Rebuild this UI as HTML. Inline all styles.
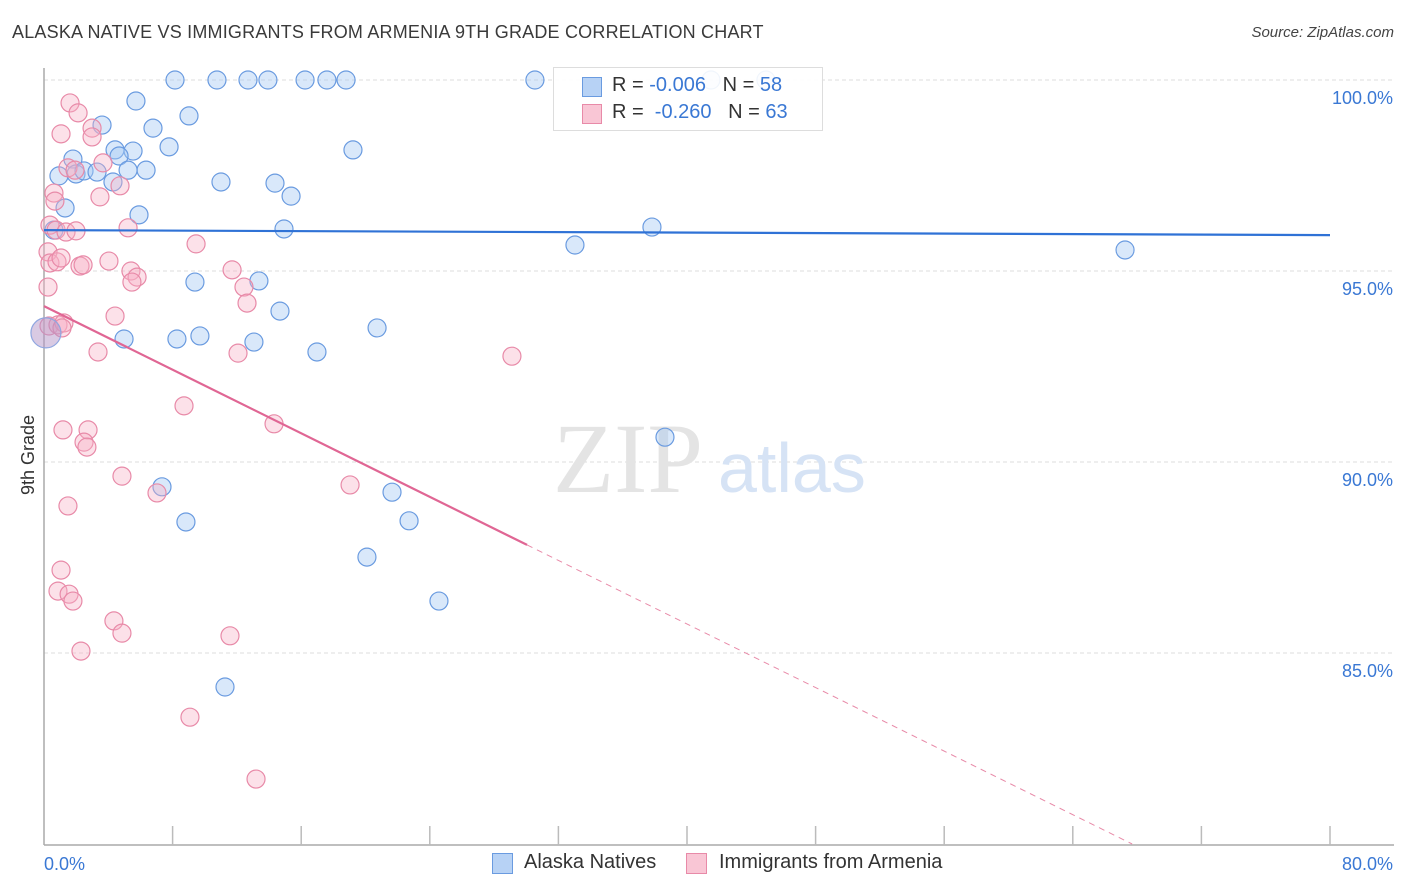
<!DOCTYPE html>
<html><head><meta charset="utf-8"><style>
body{margin:0;background:#fff;font-family:"Liberation Sans",sans-serif;}
#wrap{position:relative;width:1406px;height:892px;overflow:hidden;}
.t{position:absolute;white-space:nowrap;}
</style></head><body>
<div id="wrap">
<div class="t" style="left:12px;top:22px;font-size:18px;color:#3a3a3a;letter-spacing:0.2px;">ALASKA NATIVE VS IMMIGRANTS FROM ARMENIA 9TH GRADE CORRELATION CHART</div>
<div class="t" style="right:12px;top:24px;font-size:15px;color:#444;font-style:italic;">Source: ZipAtlas.com</div>
<svg id="svg" width="1406" height="892" style="position:absolute;left:0;top:0;">
<g id="grid"></g>
<text x="553" y="492" font-family="Liberation Serif,serif" font-size="100" fill="#e4e4e4">ZIP</text>
<text x="718" y="492" font-family="Liberation Sans,sans-serif" font-size="70" fill="#d6e3f5">atlas</text>
<g id="pts"></g>
<g id="lines"></g>
<text x="34" y="455" transform="rotate(-90 34 455)" text-anchor="middle" font-size="18" fill="#333">9th Grade</text>
</svg>
<div style="position:absolute;left:553px;top:67px;width:268px;height:62px;border:1px solid #ddd;background:rgba(255,255,255,0.9);">
<div style="position:absolute;left:28px;top:9px;width:18px;height:18px;background:#b7d2f5;border:1px solid #6a9be0;"></div>
<div class="t" style="left:58px;top:6px;font-size:20px;color:#333;">R = <span style="color:#3a78d4">-0.006</span>&nbsp;&nbsp;&nbsp;N = <span style="color:#3a78d4">58</span></div>
<div style="position:absolute;left:28px;top:36px;width:18px;height:18px;background:#f9c6d5;border:1px solid #e88aa8;"></div>
<div class="t" style="left:58px;top:33px;font-size:20px;color:#333;">R = &nbsp;<span style="color:#3a78d4">-0.260</span>&nbsp;&nbsp;&nbsp;N = <span style="color:#3a78d4">63</span></div>
</div>
<div style="position:absolute;left:492px;top:853px;">
<div style="position:absolute;left:0;top:0;width:19px;height:19px;background:#b7d2f5;border:1px solid #6a9be0;"></div>
<div class="t" style="left:32px;top:-2px;font-size:20px;color:#333;">Alaska Natives</div></div>
<div style="position:absolute;left:686px;top:853px;">
<div style="position:absolute;left:0;top:0;width:19px;height:19px;background:#f9c6d5;border:1px solid #e88aa8;"></div>
<div class="t" style="left:33px;top:-2px;font-size:20px;color:#333;">Immigrants from Armenia</div></div>
</div>
<script>
const yTicks=[100,95,90,85];
const yTickLabels=["100.0%","95.0%","90.0%","85.0%"];
const xTickLabels=["0.0%","80.0%"];
const blueX=[8.15,10.76,12.69,13.93,16.24,17.6,18.79,30.54,41.49,44.91,5.72,9.02,3.61,6.78,7.78,19.22,4.42,5.54,4.67,1.80,0.93,1.99,2.49,3.30,4.29,5.23,6.35,11.01,14.37,15.37,1.31,5.91,0.62,14.93,33.03,37.82,67.25,9.39,13.37,14.68,20.72,4.98,8.27,9.70,13.06,16.98,38.63,7.34,21.65,8.83,22.71,20.09,24.57,11.26];
const blueY=[100,100,100,100,100,100,100,100,100,100,99.45,99.06,98.82,98.74,98.25,98.17,98.17,98.14,98.01,97.93,97.49,97.54,97.62,97.59,97.33,97.64,97.64,97.33,97.30,96.96,96.65,96.47,96.07,96.10,95.68,96.15,95.55,94.71,94.74,93.95,93.51,93.22,93.22,93.30,93.14,92.88,90.65,89.35,89.21,88.43,88.46,87.51,86.36,84.11];
const pinkX=[1.62,2.12,1.06,2.99,2.99,3.67,1.49,1.93,4.73,0.62,0.68,3.48,0.37,0.75,1.37,1.99,5.23,9.46,0.25,0.37,0.81,1.06,2.24,2.43,4.04,5.41,5.79,5.47,11.70,12.44,12.63,0.25,4.42,0.31,0.87,1.24,1.12,3.36,12.07,29.11,8.71,14.31,1.18,2.74,2.49,2.67,4.85,7.03,19.04,1.49,1.06,0.87,1.56,1.80,4.35,4.85,11.57,2.30,9.08,13.19];
const pinkY=[99.40,99.14,98.59,98.74,98.51,97.83,97.70,97.64,97.23,97.04,96.83,96.94,96.20,96.07,96.02,96.05,96.13,95.71,95.50,95.21,95.24,95.34,95.13,95.16,95.26,95.00,94.84,94.71,95.03,94.58,94.16,94.58,93.82,93.56,93.59,93.64,93.51,92.88,92.85,92.77,91.47,91.0,90.84,90.84,90.52,90.39,89.63,89.19,89.40,88.85,87.17,86.62,86.54,86.36,85.84,85.52,85.45,85.05,83.32,81.70];
const bigX=[0.12], bigY=[93.38];
const blueTrend=[96.07,95.94];
const pinkTrend=[94.08,-0.208];
const X=v=>44+v*16.075, Y=v=>80+(100-v)*38.2;
const NS="http://www.w3.org/2000/svg";
function mk(tag,attrs,parent){const e=document.createElementNS(NS,tag);for(const k in attrs)e.setAttribute(k,attrs[k]);parent.appendChild(e);return e;}
const grid=document.getElementById('grid'),pts=document.getElementById('pts'),lines=document.getElementById('lines');
yTicks.forEach((t,i)=>{
 const l=mk('line',{x1:44,x2:1394,y1:Y(t),y2:Y(t),stroke:'#ddd','stroke-dasharray':'4,3'},grid);
 
 
 const tx=mk('text',{x:1393,y:Y(t)+24,'text-anchor':'end','font-size':18,fill:'#3a78d4'},grid);
 tx.textContent=yTickLabels[i];
 
 
});
const ax=mk('line',{x1:44,x2:44,y1:68,y2:845,stroke:'#aaa','stroke-width':1.5},grid);


const bx=mk('line',{x1:44,x2:1394,y1:845,y2:845,stroke:'#aaa','stroke-width':1.5},grid);


for(let i=1;i<=10;i++){const tk=mk('line',{x1:X(i*8),x2:X(i*8),y1:826,y2:845,stroke:'#bbb','stroke-width':1.5},grid);
 
 }
[[0,'start',44],[80,'end',1393]].forEach((a,i)=>{const tx=mk('text',{x:a[2],y:870,'text-anchor':a[1],'font-size':18,fill:'#3a78d4'},grid);tx.textContent=xTickLabels[i];
 
 });
blueX.forEach((x,i)=>{const c=mk('circle',{cx:X(x),cy:Y(blueY[i]),r:9,fill:'rgba(165,200,242,0.42)',stroke:'#6a9be0','stroke-width':1.2},pts);
 
 });
pinkX.forEach((x,i)=>{const c=mk('circle',{cx:X(x),cy:Y(pinkY[i]),r:9,fill:'rgba(246,175,198,0.38)',stroke:'#e88aa8','stroke-width':1.2},pts);
 
 });
bigX.forEach((x,i)=>{const c=mk('circle',{cx:X(x),cy:Y(bigY[i]),r:15,fill:'rgba(180,150,200,0.5)',stroke:'#8fa6e0','stroke-width':1.2},pts);
 
 });
const bl=mk('line',{x1:X(0),y1:Y(blueTrend[0]),x2:X(80),y2:Y(blueTrend[1]),stroke:'#2f72d6','stroke-width':2.2},lines);


const pf=x=>pinkTrend[0]+pinkTrend[1]*x;
const xs=30.05, xe=(pinkTrend[0]-80)/(-pinkTrend[1]);
const pl=mk('line',{x1:X(0),y1:Y(pf(0)),x2:X(xs),y2:Y(pf(xs)),stroke:'#e06694','stroke-width':2.2},lines);


const pd=mk('line',{x1:X(xs),y1:Y(pf(xs)),x2:X(Math.min(80,xe)),y2:Y(pf(Math.min(80,xe))),stroke:'#e88aa8','stroke-width':1,'stroke-dasharray':'6,5'},lines);


</script>
</body></html>
